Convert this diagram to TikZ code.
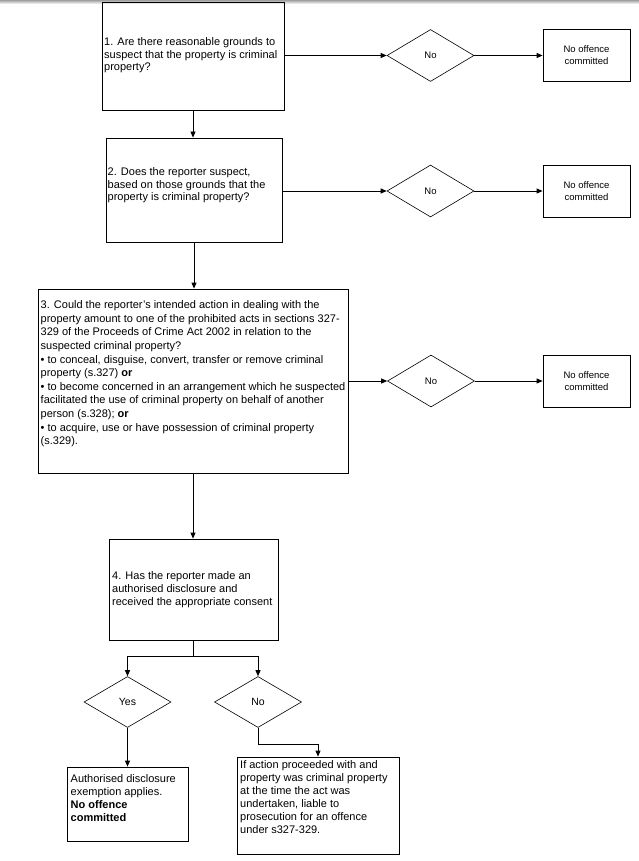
\documentclass[tikz,border=0pt]{standalone}
\usepackage{fontspec}
\setmainfont{Liberation Sans}
\usetikzlibrary{shapes.geometric,arrows.meta}
\begin{document}
\begin{tikzpicture}[x=1pt,y=-1pt,
  box/.style={draw, line width=0.8pt, inner sep=0pt},
  dia/.style={draw, diamond, line width=0.6pt, inner sep=0pt, aspect=1.67, minimum width=87pt, minimum height=52pt, font=\fontsize{9.5}{12}\selectfont},
  txt/.style={anchor=north west, inner sep=0pt, align=left},
  small/.style={box, minimum width=87pt, minimum height=52pt, align=center, font=\fontsize{9.5}{12}\selectfont},
  arr/.style={line width=0.8pt, -{Triangle[length=6pt,width=5pt]}},
  ln/.style={line width=0.8pt}]
\useasboundingbox (0,0) rectangle (639,861);
\fill[white] (0,0) rectangle (639,861);
\shade[top color=gray!75, bottom color=white] (0,0) rectangle (639,4);

% row 1
\node[box, minimum width=182pt, minimum height=108pt] (b1) at (193,56) {};
\node[txt, font=\fontsize{11}{12.5}\selectfont] (t1) at (104,37.5) {1. Are there reasonable grounds to\\suspect that the property is criminal\\property?};
\node[dia] (d1) at (430.5,55.5) {No};
\node[small] (o1) at (586.5,55) {No offence\\committed};

% row 2
\node[box, minimum width=176pt, minimum height=104pt] (b2) at (194,190) {};
\node[txt, font=\fontsize{11}{12.5}\selectfont] (t2) at (107.5,167.5) {2. Does the reporter suspect,\\based on those grounds that the\\property is criminal property?};
\node[dia] (d2) at (430.5,191) {No};
\node[small] (o2) at (586.5,191) {No offence\\committed};

% row 3
\node[box, minimum width=310pt, minimum height=184pt] (b3) at (193,381) {};
\node[txt, font=\fontsize{11}{13.6}\selectfont] (t3) at (40.5,300.5) {3. Could the reporter's intended action in dealing with the\\property amount to one of the prohibited acts in sections 327-\\329 of the Proceeds of Crime Act 2002 in relation to the\\suspected criminal property?\\\textbullet{} to conceal, disguise, convert, transfer or remove criminal\\property (s.327) \textbf{or}\\\textbullet{} to become concerned in an arrangement which he suspected\\facilitated the use of criminal property on behalf of another\\person (s.328); \textbf{or}\\\textbullet{} to acquire, use or have possession of criminal property\\(s.329).};
\node[dia] (d3) at (431,381) {No};
\node[small] (o3) at (586.5,381.5) {No offence\\committed};

% row 4
\node[box, minimum width=169pt, minimum height=101pt] (b4) at (193.5,589.5) {};
\node[txt, font=\fontsize{11}{13}\selectfont] (t4) at (112,571.5) {4. Has the reporter made an\\authorised disclosure and\\received the appropriate consent};

\node[dia, font=\fontsize{10.5}{12}\selectfont, minimum height=51pt] (dy) at (127.5,702) {Yes};
\node[dia, font=\fontsize{10.5}{12}\selectfont, minimum height=51pt] (dn) at (258,702) {No};

\node[box, minimum width=121pt, minimum height=74pt] (yb) at (127.5,804) {};
\node[txt, font=\fontsize{11}{13}\selectfont] (ty) at (70.5,774.5) {Authorised disclosure\\exemption applies.\\\textbf{No offence}\\\textbf{committed}};
\node[box, minimum width=162pt, minimum height=97pt] (nb) at (318,805.5) {};
\node[txt, font=\fontsize{11}{13}\selectfont] (tn) at (240,760.5) {If action proceeded with and\\property was criminal property\\at the time the act was\\undertaken, liable to\\prosecution for an offence\\under s327-329.};

% connectors
\draw[arr] (d1.west -| b1.east) -- (d1.west);
\draw[arr] (d1.east) -- (o1.west |- d1.east);
\draw[arr] (b1.south) -- (b1.south |- b2.north);
\draw[arr] (d2.west -| b2.east) -- (d2.west);
\draw[arr] (d2.east) -- (o2.west |- d2.east);
\draw[arr] (b2.south) -- (b2.south |- b3.north);
\draw[arr] (d3.west -| b3.east) -- (d3.west);
\draw[arr] (d3.east) -- (o3.west |- d3.east);
\draw[arr] (b3.south) -- (b3.south |- b4.north);
\coordinate (fy) at (0,656);
\coordinate (fk) at (b4.south |- fy);
\draw[ln] (b4.south) -- (fk);
\draw[arr] (fk) -| (dy.north);
\draw[arr] (fk) -| (dn.north);
\draw[arr] (dy.south) -- (dy.south |- yb.north);
\coordinate (nk) at (0,744);
\draw[arr] (dn.south) -- (dn.south |- nk) -| (nb.north);
\end{tikzpicture}
\end{document}
